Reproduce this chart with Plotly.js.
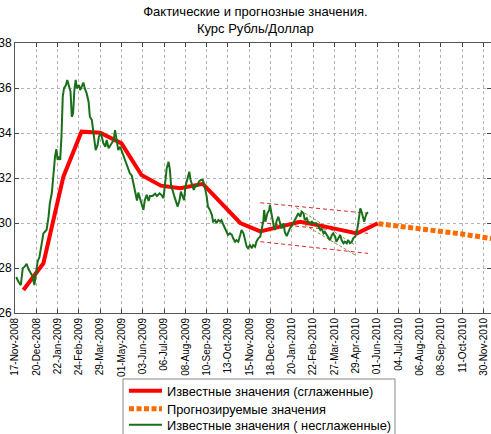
<!DOCTYPE html>
<html>
<head>
<meta charset="utf-8">
<script src="https://cdn.plot.ly/plotly-3.0.1.min.js"></script>
<style>
  html, body { margin: 0; padding: 0; background: #ffffff; }
  #chart { width: 491px; height: 434px; }
</style>
</head>
<body>
<div id="chart"></div>
<script>
// x values are days counted from 17-Nov-2008 (axis tick step = 33 days)
const tickDays = [0, 33, 66, 99, 132, 165, 198, 231, 264, 297, 330, 363, 396, 429, 462, 495, 528, 561, 594, 627, 660, 693, 726];
const tickLabels = ["17-Nov-2008", "20-Dec-2008", "22-Jan-2009", "24-Feb-2009", "29-Mar-2009", "01-May-2009",
  "03-Jun-2009", "06-Jul-2009", "08-Aug-2009", "10-Sep-2009", "13-Oct-2009", "15-Nov-2009", "18-Dec-2009",
  "20-Jan-2010", "22-Feb-2010", "27-Mar-2010", "29-Apr-2010", "01-Jun-2010", "04-Jul-2010", "06-Aug-2010",
  "08-Sep-2010", "11-Oct-2010", "30-Nov-2010"];

// Unsmoothed known values (green)
const rawDays = [2, 5, 9, 12, 15, 18, 21, 24, 27, 30, 32, 35, 38, 41, 44, 46, 49, 52, 54, 57, 59, 62, 64, 66, 68, 70,
  72, 74, 76, 79, 81, 84, 86, 88, 90, 92, 94, 96, 99, 101, 104, 106, 108, 111, 114, 116, 119, 121, 123, 125, 128, 130,
  133, 135, 137, 140, 142, 145, 148, 150, 153, 155, 158, 160, 163, 166, 169, 173, 176, 178, 181, 183, 186, 189, 191,
  194, 196, 199, 201, 204, 207, 209, 213, 217, 220, 224, 227, 230, 232, 235, 238, 240, 242, 244, 247, 249, 252, 255,
  257, 259, 262, 264, 267, 270, 272, 275, 277, 280, 282, 285, 288, 291, 294, 297, 299, 302, 305, 307, 310, 312, 315,
  318, 320, 323, 325, 328, 330, 333, 336, 338, 341, 343, 346, 349, 351, 354, 356, 359, 361, 364, 367, 369, 372, 374,
  377, 380, 382, 385, 386, 388, 391, 394, 395, 397, 399, 401, 403, 405, 408, 411, 413, 416, 418, 421, 423, 426, 429,
  431, 434, 436, 439, 442, 444, 447, 449, 452, 454, 457, 460, 462, 465, 467, 470, 473, 475, 478, 480, 483, 485, 488,
  491, 493, 496, 498, 501, 504, 506, 509, 511, 514, 516, 519, 522, 524, 527, 529, 531, 533, 535, 537, 539, 541, 543,
  545, 547];
const rawRate = [27.6, 27.4, 27.24, 27.99, 28.06, 28.18, 27.94, 27.76, 27.64, 27.24, 27.6, 28.28, 28.5, 29.1, 29.54,
  29.6, 29.7, 30.28, 30.88, 31.32, 32.06, 32.95, 33.28, 32.8, 32.95, 32.8, 33.84, 35.62, 35.99, 36.13, 36.36, 36.06,
  35.84, 34.72, 34.88, 35.91, 36.36, 35.99, 36.13, 35.91, 36.13, 36.24, 35.99, 35.76, 35.39, 34.72, 34.58, 34.13,
  33.47, 33.24, 33.47, 33.84, 33.99, 33.69, 33.54, 33.39, 33.69, 33.32, 33.47, 33.54, 33.69, 34.13, 33.69, 33.24,
  33.39, 33.17, 32.9, 32.65, 32.36, 32.21, 32.1, 31.8, 31.3, 31.0, 31.35, 31.05, 30.78, 30.58, 31.0, 31.25, 30.98,
  31.2, 31.2, 31.3, 31.2, 31.32, 31.24, 31.1, 31.61, 32.43, 32.72, 32.36, 31.61, 31.47, 31.17, 31.02, 30.73, 31.02,
  31.39, 31.24, 31.02, 31.61, 31.91, 32.28, 31.91, 31.61, 31.47, 31.69, 31.61, 31.84, 31.91, 31.91, 31.61, 31.17,
  30.73, 30.58, 30.36, 30.06, 30.13, 29.99, 30.13, 30.06, 30.13, 29.91, 29.76, 29.61, 29.47, 29.54, 29.47, 29.32,
  29.17, 29.24, 29.17, 29.47, 29.69, 29.54, 29.32, 28.95, 28.88, 29.02, 28.88, 29.02, 28.95, 29.17, 29.32, 29.39,
  29.69, 30.13, 30.58, 30.06, 30.43, 30.58, 30.8, 30.43, 30.21, 29.84, 29.69, 30.06, 30.28, 29.91, 29.76, 29.99,
  29.6, 29.42, 29.58, 29.76, 29.88, 29.99, 30.13, 30.28, 30.43, 30.28, 30.5, 30.43, 30.13, 30.21, 30.06, 29.99,
  30.06, 29.99, 30.01, 29.99, 29.84, 29.69, 29.76, 29.54, 29.61, 29.47, 29.32, 29.24, 29.47, 29.54, 29.39, 29.17,
  29.32, 29.47, 29.24, 29.1, 29.17, 29.1, 29.24, 29.1, 29.17, 29.32, 29.39, 29.54, 29.84, 30.28, 30.65, 30.5, 30.21,
  30.06, 30.28, 30.43, 30.48];

// Smoothed known values (red)
const smoothDays = [13, 44, 75, 103, 132, 165, 196, 226, 256, 284, 291, 349, 380, 411, 442, 477, 530, 562];
const smoothRate = [27.02, 28.21, 32.06, 34.06, 34.01, 33.54, 32.13, 31.66, 31.55, 31.72, 31.74, 30.0, 29.63, 29.84,
  30.05, 29.86, 29.54, 29.99];

// Forecast values (orange)
const fcDays = [563, 600, 640, 690, 740];
const fcRate = [29.97, 29.85, 29.71, 29.52, 29.30];

// Trend channel (red dashed): start and end
const chanDays = [380, 547];
const chanTop = [30.9, 30.43];
const chanMid = [30.02, 29.54];
const chanBot = [29.17, 28.65];

// Short channel (olive dashed)
const shortDays = [436, 527];
const shortTop = [30.68, 29.02];
const shortBot = [30.13, 28.58];

const FONT = '"Liberation Sans", Arial, sans-serif';

const dashTrace = (x, y, color, dash) => ({
  x: x, y: y, type: 'scatter', mode: 'lines', showlegend: false, hoverinfo: 'skip',
  line: { color: color, width: 1, dash: dash }
});

const traces = [
  dashTrace(chanDays, chanTop, '#d8282a', '4px,3px'),
  dashTrace(chanDays, chanMid, '#d8282a', '4px,3px'),
  dashTrace(chanDays, chanBot, '#d8282a', '4px,3px'),
  dashTrace(shortDays, shortTop, '#8c8c3c', '3px,2px'),
  dashTrace(shortDays, shortBot, '#8c8c3c', '3px,2px'),
  {
    x: smoothDays, y: smoothRate, type: 'scatter', mode: 'lines',
    name: 'Известные значения (сглаженные)', legend: 'legend',
    line: { color: '#ff0000', width: 4 }
  },
  {
    x: fcDays, y: fcRate, type: 'scatter', mode: 'lines',
    name: 'Прогнозируемые значения', legend: 'legend2',
    line: { color: '#ff6a00', width: 5, dash: '5px,2.5px' }
  },
  {
    x: rawDays, y: rawRate, type: 'scatter', mode: 'lines',
    name: 'Известные значения ( несглаженные)', legend: 'legend3',
    line: { color: '#1a701a', width: 2 }
  }
];

// one legend per row so the rows can sit as close together as in the reference
const legendRow = (yPaper) => ({
  x: 0.229, y: yPaper, xanchor: 'left', yanchor: 'middle', xref: 'paper', yref: 'paper',
  bgcolor: 'rgba(0,0,0,0)', borderwidth: 0,
  font: { family: FONT, size: 12.8, color: '#000' },
  itemwidth: 33
});

const layout = {
  width: 491, height: 434,
  margin: { l: 15, r: 0, t: 43, b: 121, pad: 0, autoexpand: false },
  paper_bgcolor: '#ffffff', plot_bgcolor: '#ffffff',
  font: { family: FONT, color: '#000000', size: 11 },
  title: {
    text: 'Фактические и прогнозные значения.<br>Курс Рубль/Доллар',
    font: { family: FONT, size: 13, color: '#000000' },
    x: 0.505, xref: 'paper', xanchor: 'center',
    y: 0.963, yref: 'container', yanchor: 'top'
  },
  xaxis: {
    range: [0, 737.5], tickmode: 'array', tickvals: tickDays, ticktext: tickLabels,
    tickangle: -90, tickfont: { size: 10, family: FONT },
    ticks: 'inside', ticklen: 4, tickcolor: '#444',
    showgrid: true, gridcolor: '#b4b4b4', griddash: 'dot', gridwidth: 1,
    showline: true, linecolor: '#555', linewidth: 1, mirror: 'ticks', zeroline: false
  },
  yaxis: {
    range: [26, 38], dtick: 2, tick0: 26, tickfont: { size: 12, family: FONT },
    ticks: 'inside', ticklen: 4, tickcolor: '#444',
    showgrid: true, gridcolor: '#b4b4b4', griddash: 'dot', gridwidth: 1,
    showline: true, linecolor: '#555', linewidth: 1, mirror: 'ticks', zeroline: false
  },
  legend: legendRow(-0.2889),
  legend2: legendRow(-0.3556),
  legend3: legendRow(-0.4148),
  shapes: [{
    type: 'rect', xref: 'paper', yref: 'paper', layer: 'below',
    x0: 0.2269, x1: 0.7983, y0: -0.2444, y1: -0.48,
    line: { color: '#888888', width: 1 }, fillcolor: 'rgba(0,0,0,0)'
  }],
  showlegend: true
};

Plotly.newPlot('chart', traces, layout, { displayModeBar: false, staticPlot: true });
</script>
</body>
</html>
